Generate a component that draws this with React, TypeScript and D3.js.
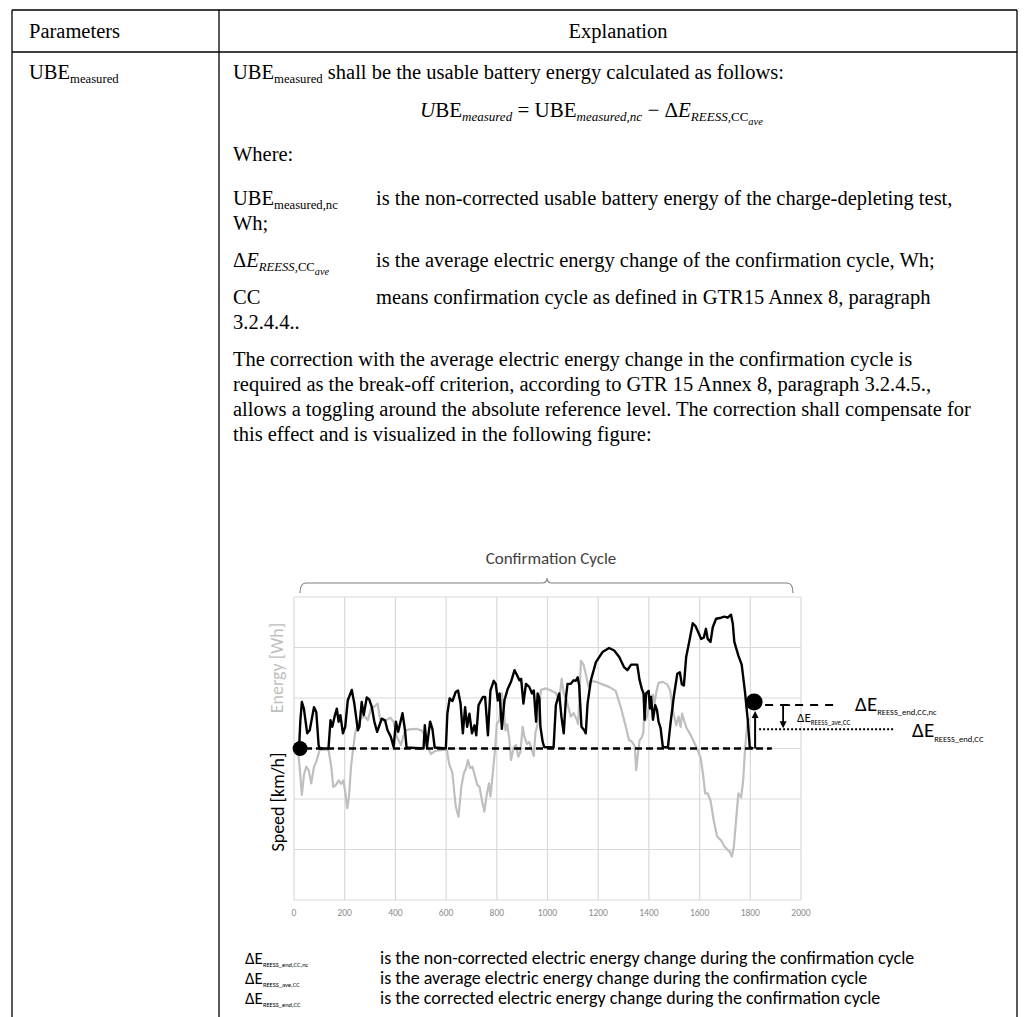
import { useEffect, useRef } from "react";
import * as d3 from "d3";

// x axis of the figure (time, s)
const timeTicks = [0, 200, 400, 600, 800, 1000, 1200, 1400, 1600, 1800, 2000];
// horizontal grid levels (arbitrary units, 0 = reference level)
const gridLevels = [-3, -2, -1, 0, 1, 2, 3];

// black trace: energy [time, level]
const energyTrace = [
  [20, 0], [25, 0.55], [31, 0.92], [39, 0.79], [52, 0.3], [62, 0.36], [79, 0.82], [88, 0.72], [97, 0.07], [101, 0],
  [136, 0], [144, 0.56], [151, 0.43], [160, 0.63], [169, 0.79], [176, 0.53], [183, 0.66], [193, 0.3], [202, 0.43],
  [212, 0.95], [228, 1.16], [238, 0.89], [252, 0.36], [258, 0.43], [267, 0.92], [275, 0.66], [287, 1.01], [297, 0.97],
  [307, 0.82], [317, 0.53], [328, 0.33], [346, 0.59], [359, 0.56], [369, 0.36], [382, 0.23], [393, 0.03], [402, 0.53],
  [411, 0.33], [428, 0.7], [438, 0.36], [444, 0.02], [511, 0], [516, 0.46], [524, 0.03], [537, 0.53], [546, 0.39],
  [555, 0.02], [599, 0], [605, 0.69], [614, 0.99], [625, 0.94], [638, 1.12], [647, 1.15], [657, 0.89], [666, 0.3],
  [675, 0.82], [683, 0.43], [692, 0.69], [702, 0.3], [712, 0.46], [719, 0.26], [728, 0.86], [745, 1.02], [754, 1.02],
  [765, 0.26], [775, 1.15], [788, 1.34], [796, 1.28], [804, 0.95], [811, 1.09], [820, 0.39], [830, 0.95], [843, 1.18],
  [856, 1.32], [870, 1.55], [880, 1.45], [889, 1.35], [896, 1.38], [905, 0.89], [915, 1.28], [928, 1.22], [939, 1.09],
  [946, 1.15], [955, 0.53], [961, 1.09], [968, 0.99], [972, 0.43], [981, 0.13], [987, 0.03], [1024, 0.02], [1033, 0.86],
  [1046, 1.09], [1055, 0.63], [1064, 0.3], [1073, 1.02], [1079, 1.28], [1092, 1.28], [1103, 1.35], [1112, 1.34],
  [1119, 1.41], [1125, 1.25], [1134, 0.43], [1145, 0.36], [1151, 0.3], [1158, 0.89], [1171, 1.35], [1191, 1.71],
  [1217, 1.91], [1243, 1.99], [1263, 1.94], [1283, 1.81], [1302, 1.61], [1315, 1.55], [1330, 1.66], [1354, 1.66],
  [1363, 1.36], [1372, 1.18], [1379, 1.09], [1383, 0.57], [1389, 1.09], [1399, 1.14], [1404, 0.79], [1409, 1.02],
  [1416, 0.57], [1425, 0.86], [1432, 0.76], [1438, 0.53], [1446, 0.41], [1455, 0.03], [1475, 0.02], [1485, 0.49],
  [1498, 1.02], [1512, 1.48], [1522, 1.51], [1530, 1.27], [1538, 1.25], [1547, 1.81], [1560, 2.14], [1573, 2.48],
  [1583, 2.43], [1593, 2.32], [1606, 2.17], [1617, 2.2], [1625, 2.37], [1632, 2.17], [1643, 2.11], [1652, 2.4],
  [1665, 2.57], [1685, 2.59], [1698, 2.61], [1711, 2.59], [1724, 2.65], [1731, 2.47], [1737, 2.11], [1753, 1.84],
  [1766, 1.66], [1779, 1.12], [1790, 0.56], [1798, 0.02], [1812, 0],
];

// grey trace: speed [time, level]
const speedTrace = [
  [16, -0.03], [22, -0.36], [31, -0.92], [39, -0.53], [48, -0.36], [58, -0.43], [68, -0.69], [79, -0.36], [88, -0.26],
  [101, -0.03], [136, -0.02], [147, -0.36], [155, -0.76], [166, -0.72], [176, -0.63], [186, -0.7], [195, -0.63],
  [203, -0.89], [210, -1.18], [217, -0.95], [225, -0.36], [233, -0.02], [241, 0.3], [252, 0.49], [265, 0.61],
  [280, 0.63], [291, 0.56], [304, 0.79], [320, 0.84], [330, 0.89], [339, 0.59], [354, 0.55], [367, 0.57], [380, 0.61],
  [393, 0.53], [406, 0.23], [422, 0.07], [438, 0.36], [455, 0.38], [481, 0.39], [503, 0.36], [516, 0.26], [529, 0.02],
  [540, -0.11], [555, -0.05], [586, -0.03], [603, -0.03], [612, -0.3], [625, -0.49], [638, -1.15], [649, -1.35],
  [660, -0.76], [670, -0.49], [679, -0.39], [686, -0.23], [695, -0.39], [704, -0.36], [713, -0.53], [723, -0.72],
  [732, -0.76], [741, -1.02], [751, -1.25], [761, -0.89], [769, -0.69], [775, -0.95], [784, -0.49], [793, -0.03],
  [800, 0.49], [810, 0.55], [820, 1.09], [828, 0.76], [834, 0.36], [841, 0.48], [850, 0.16], [856, -0.23], [867, 0.03],
  [876, 0.07], [885, -0.16], [893, -0.07], [902, 0.43], [909, 0.23], [919, 0.09], [928, 0.13], [938, -0.03],
  [946, -0.15], [952, 0.3], [961, 0.49], [974, 1.16], [994, 1.19], [1014, 1.15], [1033, 1.1], [1046, 0.95],
  [1056, 1.38], [1064, 1.09], [1073, 1.01], [1082, 0.82], [1092, 0.63], [1103, 0.7], [1112, 0.61], [1121, 0.48],
  [1132, 1.74], [1142, 1.66], [1151, 1.48], [1161, 1.23], [1171, 1.34], [1191, 1.32], [1217, 1.27], [1243, 1.22],
  [1269, 1.14], [1289, 0.82], [1309, 0.43], [1322, 0.16], [1330, 0.15], [1344, 0.05], [1350, -0.43], [1357, -0.09],
  [1363, 0.16], [1372, 0.22], [1378, 0.31], [1382, 0.76], [1387, 0.55], [1393, 0.64], [1400, 0.82], [1407, 1.02],
  [1416, 1.07], [1422, 0.89], [1430, 1.14], [1438, 1.3], [1455, 1.32], [1472, 1.27], [1484, 1.15], [1491, 0.89],
  [1498, 0.68], [1508, 0.46], [1517, 0.63], [1525, 0.43], [1531, 0.69], [1539, 0.55], [1548, 0.41], [1561, 0.3],
  [1575, 0.16], [1588, 0.02], [1604, -0.18], [1614, -0.53], [1622, -0.89], [1632, -0.89], [1643, -1.03],
  [1656, -1.43], [1669, -1.74], [1685, -1.82], [1698, -1.94], [1711, -2.01], [1719, -2.04], [1727, -2.14],
  [1735, -1.95], [1744, -1.41], [1753, -0.89], [1764, -0.97], [1772, -0.63], [1779, -0.03], [1787, 0.43], [1795, 0.6],
];

// annotation anchors [time, level]
const startPoint = [24, 0];
const endPoint = [1815, 0.92];
const baselineEnd = 1885;
const aveLevel = 0.38;

const legendRows = [
  ["REESS_end,CC,nc", "is the non-corrected electric energy change during the confirmation cycle"],
  ["REESS_ave,CC", "is the average electric energy change during the confirmation cycle"],
  ["REESS_end,CC", "is the corrected electric energy change during the confirmation cycle"],
];

const paragraphLines = [
  "The correction with the average electric energy change in the confirmation cycle is",
  "required as the break-off criterion, according to GTR 15 Annex 8, paragraph 3.2.4.5.,",
  "allows a toggling around the absolute reference level. The correction shall compensate for",
  "this effect and is visualized in the following figure:",
];

const SERIF = "'Liberation Serif', 'Times New Roman', serif";
const SANS = "Carlito, Lato, 'Open Sans', sans-serif";

type Seg = { t: string; sub?: number; i?: boolean; size?: number };

function rich(parent, x, y, segs: Seg[], size, family = SERIF, anchor = "start", fill = "#000") {
  const text = parent
    .append("text")
    .attr("x", x)
    .attr("y", y)
    .attr("font-size", size)
    .attr("font-family", family)
    .attr("text-anchor", anchor)
    .attr("fill", fill)
    .style("white-space", "pre");
  let cur = 0;
  segs.forEach((s) => {
    const lvl = s.sub ?? 0;
    const shift = lvl === 0 ? 0 : lvl === 1 ? size * 0.2 : size * 0.38;
    const ts = text.append("tspan").attr("dy", shift - cur).text(s.t);
    cur = shift;
    if (lvl) ts.attr("font-size", s.size ?? size * (lvl === 1 ? 0.62 : 0.5));
    else if (s.size) ts.attr("font-size", s.size);
    if (s.i) ts.attr("font-style", "italic");
  });
  return text;
}

const App = () => {
  const ref = useRef(null);

  useEffect(() => {
    const svg = d3.select(ref.current).attr("width", 1029).attr("height", 1017);
    svg.selectAll("*").remove();

    // ---- table frame ----
    const tb = { left: 12, mid: 219, right: 1017, top: 10, head: 52, bottom: 1017 };
    const frame = svg.append("g").attr("stroke", "#000").attr("stroke-width", 1.3);
    frame.append("line").attr("x1", tb.left).attr("x2", tb.right).attr("y1", tb.top).attr("y2", tb.top);
    frame.append("line").attr("x1", tb.left).attr("x2", tb.right).attr("y1", tb.head).attr("y2", tb.head);
    [tb.left, tb.mid, tb.right].forEach((x) =>
      frame.append("line").attr("x1", x).attr("x2", x).attr("y1", tb.top).attr("y2", tb.bottom)
    );

    const fs = 20.5;
    rich(svg, 29, 38, [{ t: "Parameters" }], fs);
    rich(svg, (tb.mid + tb.right) / 2, 38, [{ t: "Explanation" }], fs, SERIF, "middle");
    rich(svg, 29, 79, [{ t: "UBE" }, { t: "measured", sub: 1 }], fs);

    const cx = 233;
    const cx2 = 376;
    const P = 25; // line pitch
    const G = 37; // paragraph pitch
    rich(svg, cx, 79, [{ t: "UBE" }, { t: "measured", sub: 1 }, { t: " shall be the usable battery energy calculated as follows:" }], fs);
    const yFormula = 117;
    rich(
      svg,
      420,
      yFormula,
      [
        { t: "U", i: true }, { t: "BE" }, { t: "measured", sub: 1, i: true },
        { t: " = UBE" }, { t: "measured,nc", sub: 1, i: true },
        { t: " − Δ" }, { t: "E", i: true }, { t: "REESS,", sub: 1, i: true }, { t: "CC", sub: 1 }, { t: "ave", sub: 2, i: true },
      ],
      21
    );
    const yWhere = 161;
    const yNc = 205;
    rich(svg, cx, yWhere, [{ t: "Where:" }], fs);
    rich(svg, cx, yNc, [{ t: "UBE" }, { t: "measured,nc", sub: 1 }], fs);
    rich(svg, cx2, yNc, [{ t: "is the non-corrected usable battery energy of the charge-depleting test," }], fs);
    rich(svg, cx, yNc + P, [{ t: "Wh;" }], fs);
    const yAve = yNc + P + G;
    rich(svg, cx, yAve, [{ t: "Δ" }, { t: "E", i: true }, { t: "REESS,", sub: 1, i: true }, { t: "CC", sub: 1 }, { t: "ave", sub: 2, i: true }], fs);
    rich(svg, cx2, yAve, [{ t: "is the average electric energy change of the confirmation cycle, Wh;" }], fs);
    const yCc = yAve + G;
    rich(svg, cx, yCc, [{ t: "CC" }], fs);
    rich(svg, cx2, yCc, [{ t: "means confirmation cycle as defined in GTR15 Annex 8, paragraph" }], fs);
    rich(svg, cx, yCc + P, [{ t: "3.2.4.4.." }], fs);
    const yPar = yCc + P + G;
    paragraphLines.forEach((line, i) => rich(svg, cx, yPar + i * P, [{ t: line }], fs));

    // ---- figure ----
    const x = d3.scaleLinear().domain([0, 2000]).range([294, 801]);
    const y = d3.scaleLinear().domain([-3, 3]).range([900, 597]);
    const fig = svg.append("g");

    const grid = fig.append("g").attr("stroke", "#d9d9d9").attr("stroke-width", 1.2);
    timeTicks.forEach((t) =>
      grid.append("line").attr("x1", x(t)).attr("x2", x(t)).attr("y1", y(3)).attr("y2", y(-3))
    );
    gridLevels.forEach((l) =>
      grid.append("line").attr("x1", x(0)).attr("x2", x(2000)).attr("y1", y(l)).attr("y2", y(l))
    );

    fig
      .selectAll(".tick")
      .data(timeTicks)
      .enter()
      .append("text")
      .attr("x", (d) => x(d))
      .attr("y", y(-3) + 16)
      .attr("text-anchor", "middle")
      .attr("font-family", SANS)
      .attr("font-size", 9.5)
      .attr("fill", "#8c8c8c")
      .text((d) => d);

    const line = d3
      .line()
      .x((d) => x(d[0]))
      .y((d) => y(d[1]));

    fig
      .append("path")
      .datum(speedTrace)
      .attr("d", line)
      .attr("fill", "none")
      .attr("stroke", "#bfbfbf")
      .attr("stroke-width", 2.2)
      .attr("stroke-linejoin", "round");

    fig
      .append("path")
      .datum(energyTrace)
      .attr("d", line)
      .attr("fill", "none")
      .attr("stroke", "#000")
      .attr("stroke-width", 2.4)
      .attr("stroke-linejoin", "round");

    // reference level
    fig
      .append("line")
      .attr("x1", x(0))
      .attr("x2", x(baselineEnd))
      .attr("y1", y(0))
      .attr("y2", y(0))
      .attr("stroke", "#000")
      .attr("stroke-width", 2.4)
      .attr("stroke-dasharray", "7,4");

    fig.append("circle").attr("cx", x(startPoint[0])).attr("cy", y(startPoint[1])).attr("r", 7.5).attr("fill", "#000");

    // up arrow from reference level to end point
    const ax = x(endPoint[0]) + 1;
    fig
      .append("line")
      .attr("x1", ax)
      .attr("x2", ax)
      .attr("y1", y(0))
      .attr("y2", y(endPoint[1]) + 14)
      .attr("stroke", "#000")
      .attr("stroke-width", 2);
    fig
      .append("path")
      .attr("d", `M${ax - 3.5},${y(endPoint[1]) + 16}L${ax + 3.5},${y(endPoint[1]) + 16}L${ax},${y(endPoint[1]) + 9}Z`)
      .attr("fill", "#000");
    fig.append("circle").attr("cx", x(endPoint[0])).attr("cy", y(endPoint[1])).attr("r", 8.5).attr("fill", "#000");

    // dashed level of the end point
    const ey = y(endPoint[1]) + 3;
    fig
      .append("line")
      .attr("x1", x(endPoint[0]) + 11)
      .attr("x2", x(endPoint[0]) + 86)
      .attr("y1", ey)
      .attr("y2", ey)
      .attr("stroke", "#000")
      .attr("stroke-width", 2)
      .attr("stroke-dasharray", "8,7");

    // dotted corrected level
    fig
      .append("line")
      .attr("x1", x(endPoint[0]) + 5)
      .attr("x2", x(endPoint[0]) + 141)
      .attr("y1", y(aveLevel))
      .attr("y2", y(aveLevel))
      .attr("stroke", "#000")
      .attr("stroke-width", 2)
      .attr("stroke-dasharray", "2,2");

    // down bracket arrow
    const bx = x(endPoint[0]) + 29;
    fig
      .append("path")
      .attr("d", `M${bx + 7},${ey}H${bx}V${y(aveLevel) - 7}`)
      .attr("fill", "none")
      .attr("stroke", "#000")
      .attr("stroke-width", 1.8);
    fig
      .append("path")
      .attr("d", `M${bx - 3.5},${y(aveLevel) - 8}L${bx + 3.5},${y(aveLevel) - 8}L${bx},${y(aveLevel) - 1}Z`)
      .attr("fill", "#000");

    rich(fig, x(endPoint[0]) + 101, ey + 6, [{ t: "ΔE" }, { t: "REESS_end,CC,nc", sub: 1, size: 8.5 }], 21, SANS);
    rich(fig, x(endPoint[0]) + 43, ey + 17, [{ t: "ΔE" }, { t: "REESS_ave,CC", sub: 1, size: 7 }], 13, SANS);
    rich(fig, x(endPoint[0]) + 158, y(aveLevel) + 8, [{ t: "ΔE" }, { t: "REESS_end,CC", sub: 1, size: 8.5 }], 21, SANS);

    // axis titles
    fig
      .append("text")
      .attr("transform", `translate(283, 668) rotate(-90)`)
      .attr("text-anchor", "middle")
      .attr("font-family", SANS)
      .attr("font-size", 18)
      .attr("fill", "#bfbfbf")
      .text("Energy [Wh]");
    fig
      .append("text")
      .attr("transform", `translate(284, 802) rotate(-90)`)
      .attr("text-anchor", "middle")
      .attr("font-family", SANS)
      .attr("font-size", 18)
      .attr("fill", "#000")
      .text("Speed [km/h]");

    // brace + title
    const bl = 300;
    const br = 793;
    const bm = 547;
    const by = 583;
    fig
      .append("path")
      .attr(
        "d",
        `M${bl},${by + 10}Q${bl},${by} ${bl + 6},${by}H${bm - 5}Q${bm},${by} ${bm},${by - 5}Q${bm},${by} ${bm + 5},${by}H${br - 6}Q${br},${by} ${br},${by + 10}`
      )
      .attr("fill", "none")
      .attr("stroke", "#7f7f7f")
      .attr("stroke-width", 1.1);
    fig
      .append("text")
      .attr("x", 551)
      .attr("y", 564)
      .attr("text-anchor", "middle")
      .attr("font-family", SANS)
      .attr("font-size", 17)
      .attr("fill", "#404040")
      .text("Confirmation Cycle");

    // legend under the figure
    legendRows.forEach(([sub, desc], i) => {
      rich(fig, 245, 964 + i * 20, [{ t: "ΔE" }, { t: sub, sub: 1, size: 6.5 }], 17, SANS);
      rich(fig, 380, 964 + i * 20, [{ t: desc }], 18, SANS);
    });
  }, []);

  return (
    <div style={{ position: "absolute", left: 0, top: 0 }}>
      <svg ref={ref} style={{ display: "block", background: "#fff" }}></svg>
    </div>
  );
};

export default App;
